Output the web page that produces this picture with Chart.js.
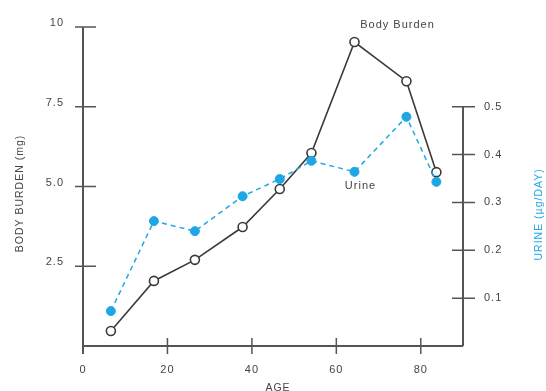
<!DOCTYPE html>
<html>
<head>
<meta charset="utf-8">
<script src="https://cdn.jsdelivr.net/npm/chart.js@4/dist/chart.umd.min.js"></script>
<style>
  html, body { margin: 0; padding: 0; background: #fff; }
  #wrap { width: 546px; height: 391px; position: relative; }
</style>
</head>
<body>
<div id="wrap"><canvas id="c" width="546" height="391"></canvas></div>
<script>
// Age of subjects (years)
const ages = [6.6, 16.8, 26.5, 37.8, 46.6, 54.1, 64.3, 76.6, 83.7];
// Body burden (mg), left axis
const bodyBurden = [0.47, 2.04, 2.7, 3.73, 4.92, 6.05, 9.53, 8.3, 5.45];
// Urinary excretion (µg/day), right axis
const urine = [0.073, 0.261, 0.240, 0.313, 0.349, 0.387, 0.364, 0.479, 0.343];

const xTicks = [0, 20, 40, 60, 80];
const leftTicks = [2.5, 5, 7.5, 10];
const leftTickLabels = ['2.5', '5.0', '7.5', '10'];
const rightTicks = [0.1, 0.2, 0.3, 0.4, 0.5];
const rightTickLabels = ['0.1', '0.2', '0.3', '0.4', '0.5'];

const BLUE = '#1ea7e4';
const INK = '#3a3a3a';
const FONT = '"Liberation Sans", Arial, sans-serif';

// Hand-drawn style axes with crossing tick marks
const axesPlugin = {
  id: 'crossAxes',
  afterDatasetsDraw(chart) {
    const { ctx } = chart;
    const xs = chart.scales.x, yl = chart.scales.y, yr = chart.scales.y1;
    const x0 = xs.getPixelForValue(0), xEnd = xs.getPixelForValue(90);
    const y0 = yl.getPixelForValue(0), yTop = yl.getPixelForValue(10);
    const yrTop = yr.getPixelForValue(0.5);
    ctx.save();
    ctx.strokeStyle = '#555';
    ctx.lineWidth = 2;
    ctx.beginPath();
    // left axis
    ctx.moveTo(x0, yTop); ctx.lineTo(x0, y0 + 8);
    // bottom axis
    ctx.moveTo(x0, y0); ctx.lineTo(xEnd, y0);
    // right axis
    ctx.moveTo(xEnd, y0); ctx.lineTo(xEnd, yrTop);
    ctx.stroke();

    ctx.lineWidth = 1.5;
    ctx.beginPath();
    leftTicks.forEach(v => {
      const y = yl.getPixelForValue(v);
      ctx.moveTo(x0 - 8, y); ctx.lineTo(x0 + 13, y);
    });
    xTicks.slice(1).forEach(v => {
      const x = xs.getPixelForValue(v);
      ctx.moveTo(x, y0 - 8); ctx.lineTo(x, y0 + 8);
    });
    rightTicks.forEach(v => {
      const y = yr.getPixelForValue(v);
      ctx.moveTo(xEnd - 11, y); ctx.lineTo(xEnd + 12, y);
    });
    ctx.stroke();

    ctx.fillStyle = '#444';
    ctx.font = '11px ' + FONT;
    ctx.letterSpacing = '1px';
    ctx.textBaseline = 'middle';
    ctx.textAlign = 'right';
    leftTicks.forEach((v, i) => ctx.fillText(leftTickLabels[i], x0 - 19, yl.getPixelForValue(v) - 4));
    ctx.textAlign = 'left';
    rightTicks.forEach((v, i) => ctx.fillText(rightTickLabels[i], xEnd + 21, yr.getPixelForValue(v)));
    ctx.textAlign = 'center';
    xTicks.forEach(v => ctx.fillText(String(v), xs.getPixelForValue(v), y0 + 24));
    ctx.font = '10.5px ' + FONT;
    ctx.fillText('AGE', (x0 + xEnd) / 2 + 5, y0 + 42);

    // axis titles
    ctx.save();
    ctx.translate(20, (yTop + y0) / 2 + 7);
    ctx.rotate(-Math.PI / 2);
    ctx.fillStyle = '#444';
    ctx.fillText('BODY BURDEN (mg)', 0, 0);
    ctx.restore();
    ctx.save();
    ctx.translate(539, (yrTop + y0) / 2 - 12);
    ctx.rotate(-Math.PI / 2);
    ctx.fillStyle = BLUE;
    ctx.fillText('URINE (µg/DAY)', 0, 0);
    ctx.restore();

    // series labels next to their lines
    ctx.fillStyle = '#444';
    ctx.font = '11px ' + FONT;
    const pk = chart.getDatasetMeta(1).data[6];
    ctx.fillText('Body Burden', pk.x + 43, pk.y - 17);
    const up = chart.getDatasetMeta(0).data[6];
    ctx.fillText('Urine', up.x + 6, up.y + 14);
    ctx.restore();
  }
};

new Chart(document.getElementById('c'), {
  type: 'line',
  data: {
    datasets: [
      {
        label: 'Urine',
        data: ages.map((a, i) => ({ x: a, y: urine[i] })),
        yAxisID: 'y1',
        borderColor: BLUE,
        borderWidth: 1.5,
        borderDash: [5, 4],
        pointBackgroundColor: BLUE,
        pointBorderColor: BLUE,
        pointRadius: 4.5,
        pointBorderWidth: 1,
        order: 0
      },
      {
        label: 'Body Burden',
        data: ages.map((a, i) => ({ x: a, y: bodyBurden[i] })),
        yAxisID: 'y',
        borderColor: INK,
        borderWidth: 1.6,
        pointBackgroundColor: '#fff',
        pointBorderColor: INK,
        pointRadius: 4.5,
        pointBorderWidth: 1.6,
        order: 1
      }
    ]
  },
  options: {
    responsive: false,
    animation: false,
    layout: { padding: { left: 83, right: 83, top: 27, bottom: 45 } },
    plugins: { legend: { display: false }, tooltip: { enabled: false } },
    scales: {
      x: { type: 'linear', min: 0, max: 90, display: false },
      y: { type: 'linear', min: 0, max: 10, display: false },
      y1: { type: 'linear', min: 0, max: 0.5 * 10 / 7.5, display: false }
    }
  },
  plugins: [axesPlugin]
});
</script>
</body>
</html>
